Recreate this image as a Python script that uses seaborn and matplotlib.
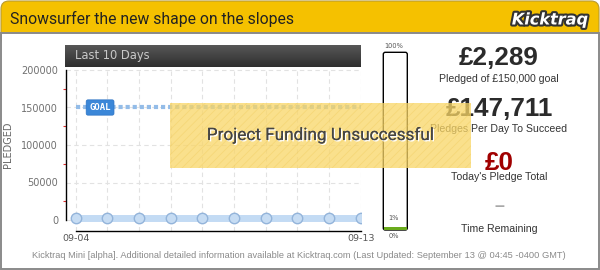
import matplotlib
matplotlib.use("Agg")
import matplotlib.pyplot as plt
import matplotlib.patheffects as pe
from matplotlib.patches import Rectangle, FancyBboxPatch
from matplotlib.ticker import FixedLocator
from matplotlib.colors import LinearSegmentedColormap
import numpy as np
import pandas as pd
import seaborn as sns

# ---------------- data ----------------
dates = ["09-04", "09-05", "09-06", "09-07", "09-08",
         "09-09", "09-10", "09-11", "09-12", "09-13"]
pledged = [2289, 2289, 2289, 2289, 2289, 2289, 2289, 2289, 2289, 2289]
goal = 150000
yticks = [0, 50000, 100000, 150000, 200000]
title = "Snowsurfer the new shape on the slopes"
pledged_total = "£2,289"
pledged_caption = "Pledged of £150,000 goal"
per_day = "£147,711"
per_day_caption = "Pledges Per Day To Succeed"
today = "£0"
today_caption = "Today's Pledge Total"
remaining = "–"
remaining_caption = "Time Remaining"
status = "Project Funding Unsuccessful"
footer = ("Kicktraq Mini [alpha]. Additional detailed information available at "
          "Kicktraq.com (Last Updated: September 13 @ 04:45 -0400 GMT)")

df = pd.DataFrame({"day": np.arange(len(dates)), "date": dates, "pledged": pledged})

# ---------------- setup ----------------
sns.set_theme(style="white")
plt.rcParams['font.family'] = ['DejaVu Sans']
plt.rcParams['hatch.linewidth'] = 0.6

W, H = 600, 270
fig = plt.figure(figsize=(W / 100, H / 100), dpi=100)
fig.patch.set_facecolor("white")
tr = fig.dpi_scale_trans


def P(px, py):
    return (px / 100.0, (H - py) / 100.0)


renderer = fig.canvas.get_renderer()


def fit(t, target):
    w = t.get_window_extent(renderer).width
    t.set_fontsize(t.get_fontsize() * target / w)
    return t


def ftext(px, py, s, **kw):
    return fig.text(*P(px, py), s, transform=tr, **kw)


# header + frame
hdr = FancyBboxPatch(P(1, 45), 5.98, 0.44, boxstyle="round,pad=0,rounding_size=0.08",
                     transform=tr, facecolor="#f5c100", edgecolor="#b89a30", lw=0.8, zorder=-5)
fig.patches.append(hdr)
body = Rectangle(P(1.5, 268.5), 5.97, (268.5 - 33) / 100, transform=tr,
                 facecolor="white", edgecolor="none", zorder=-4)
fig.patches.append(body)
frame = Rectangle(P(0.8, 269.2), 5.984, (269.2 - 33) / 100, transform=tr,
                  facecolor="none", edgecolor="#8a8a8a", lw=1.4, zorder=-3)
fig.patches.append(frame)

t = ftext(10, 18.5, title, ha="left", va="center", color="#222222",
          family="Roboto", fontsize=12)
fit(t, 282)
t = ftext(550, 20, "Kicktraq", ha="center", va="center", color="white",
          family="DejaVu Sans", fontweight="bold", style="italic", fontsize=13,
          path_effects=[pe.withStroke(linewidth=3, foreground="#333333")])
fit(t, 76)

# dark "Last 10 Days" header
axh = fig.add_axes([65 / W, 1 - 67 / H, (361 - 65) / W, 22 / H])
grad = np.linspace(0, 1, 50).reshape(-1, 1)
cm = LinearSegmentedColormap.from_list("g", ["#575757", "#2f2f2f"])
axh.imshow(grad, aspect="auto", cmap=cm, extent=[0, 1, 0, 1], origin="upper")
axh.set_axis_off()
t = ftext(75, 56, "Last 10 Days", ha="left", va="center", color="#c9c9c9",
          family="DejaVu Sans", fontsize=9)
fit(t, 75)

# ---------------- main chart ----------------
ax_left, ax_right, ax_top, ax_bot = 65.7, 361.0, 68.0, 230.7
ax = fig.add_axes([ax_left / W, 1 - ax_bot / H, (ax_right - ax_left) / W, (ax_bot - ax_top) / H])
ax.set_facecolor("none")
day_px = (360.7 - 75.7) / 9
ax.set_xlim(-(75.7 - ax_left) / day_px, 9 + (ax_right - 360.7) / day_px)
y_per_px = 200000 / 150.0
ax.set_ylim(-(ax_bot - 220) * y_per_px, (220 - ax_top) * y_per_px)

ax.grid(True, which="major", color="#e2e2e2", lw=0.8, ls=(0, (4, 3)))
ax.set_axisbelow(True)

# goal line
ax.plot(df["day"], [goal] * len(df), color="#93bce8", lw=3, ls=(0, (1, 0.7)), zorder=2,
        solid_capstyle="butt", dash_capstyle="butt")
ax.text(0.77, goal, "GOAL", ha="center", va="center", color="white", fontsize=6.5,
        family="DejaVu Sans Mono", fontweight="bold", zorder=4,
        bbox=dict(boxstyle="round,pad=0.35,rounding_size=0.2", facecolor="#3b87d8",
                  edgecolor="#2f74c4", lw=0.5))

sns.lineplot(data=df, x="day", y="pledged", ax=ax, color="#c3dbf4", lw=5, marker="o",
             markersize=7.5, markerfacecolor="#c6dcf3", markeredgecolor="#93b4da",
             markeredgewidth=1, zorder=3)

ax.set_xlabel("")
ax.set_ylabel("PLEDGED", fontsize=7, color="#666666")
ax.yaxis.set_label_coords((12.7 - ax_left) / (ax_right - ax_left),
                          (ax_bot - 145) / (ax_bot - ax_top))

for s in ["top", "right"]:
    ax.spines[s].set_visible(False)
ax.spines["left"].set_bounds(0, 200000)
ax.spines["bottom"].set_bounds(0, 9)
for s in ["left", "bottom"]:
    ax.spines[s].set_color("black")
    ax.spines[s].set_linewidth(1)

ax.set_yticks(yticks)
ax.set_yticklabels([str(v) for v in yticks])
ax.yaxis.set_minor_locator(FixedLocator([25000, 75000, 125000, 175000]))
ax.tick_params(axis="y", which="major", direction="inout", length=5, width=1, color="black",
               labelsize=7, labelcolor="#707070", pad=3)
ax.tick_params(axis="y", which="minor", direction="out", length=2.5, width=0.8,
               color="#e03030", left=True)
ax.set_xticks(df["day"])
ax.set_xticklabels([d if i in (0, len(dates) - 1) else "" for i, d in enumerate(dates)])
ax.tick_params(axis="x", which="major", direction="inout", length=6, width=1, color="black",
               labelsize=6.8, labelcolor="#555555", pad=-0.5)

# ---------------- progress bar ----------------
bx0, bx1, by0, by1 = 383.3, 407.3, 52.3, 230.0
bar = FancyBboxPatch(P(bx0, by1), (bx1 - bx0) / 100, (by1 - by0) / 100,
                     boxstyle="round,pad=0,rounding_size=0.02", transform=tr,
                     facecolor="white", edgecolor="black", lw=1, zorder=2)
fig.patches.append(bar)
frac = pledged[-1] / goal
fill_h = (by1 - by0 - 1) * frac
fig.patches.append(Rectangle(P(bx0 + 0.5, by1 - 0.5), (bx1 - bx0 - 1) / 100, fill_h / 100,
                             transform=tr, facecolor="#6aab1c", edgecolor="none", zorder=3))
ftext(394, 45.5, "100%", ha="center", va="center", fontsize=4.8, color="#555555")
ftext(393, 218, "1%", ha="center", va="center", fontsize=4.8, color="#555555")
ftext(393.5, 236.5, "0%", ha="center", va="center", fontsize=4.8, color="#555555")

# ---------------- right panel ----------------
cx = 499
big = ftext(cx, 58.5, pledged_total, ha="center", va="center", family="Liberation Sans",
            fontweight="bold", fontsize=20, color="#2b2b2b")
fit(big, 80)
bs = big.get_fontsize()
ftext(cx, 108.5, per_day, ha="center", va="center", family="Liberation Sans",
      fontweight="bold", fontsize=bs, color="#2b2b2b")
ftext(cx, 162.5, today, ha="center", va="center", family="Liberation Sans",
      fontweight="bold", fontsize=bs, color="#a00000")
small = ftext(cx, 78.5, pledged_caption, ha="center", va="center", family="Liberation Sans",
              fontsize=8, color="#333333")
fit(small, 120)
ss = small.get_fontsize()
ftext(cx, 128.5, per_day_caption, ha="center", va="center", family="Liberation Sans",
      fontsize=ss, color="#333333")
ftext(cx, 177.5, today_caption, ha="center", va="center", family="Liberation Sans",
      fontsize=ss, color="#333333")
ftext(cx, 228.5, remaining_caption, ha="center", va="center", family="Liberation Sans",
      fontsize=ss, color="#333333")
ftext(cx, 206.5, remaining, ha="center", va="center", family="Liberation Sans",
      fontweight="bold", fontsize=13, color="#a8a8a8")

# ---------------- overlay ----------------
ov = Rectangle(P(170, 168), (471 - 170) / 100, (168 - 103) / 100, transform=tr,
               facecolor=(0.976, 0.84, 0.40, 0.75), edgecolor=(0.93, 0.78, 0.32, 0.35),
               hatch="////", lw=0, zorder=20)
fig.patches.append(ov)
t = ftext(320, 135, status, ha="center", va="center", family="Roboto", fontsize=13,
          color="#454545", zorder=21,
          path_effects=[pe.withSimplePatchShadow(offset=(1, -1), shadow_rgbFace="white", alpha=1),
                        pe.Normal()])
fit(t, 227)

# footer
t = ftext(298.5, 255.7, footer, ha="center", va="center", family="Liberation Sans",
          fontsize=6, color="#8a8a8a")
fit(t, 537)

fig.savefig("out.png", dpi=100)
